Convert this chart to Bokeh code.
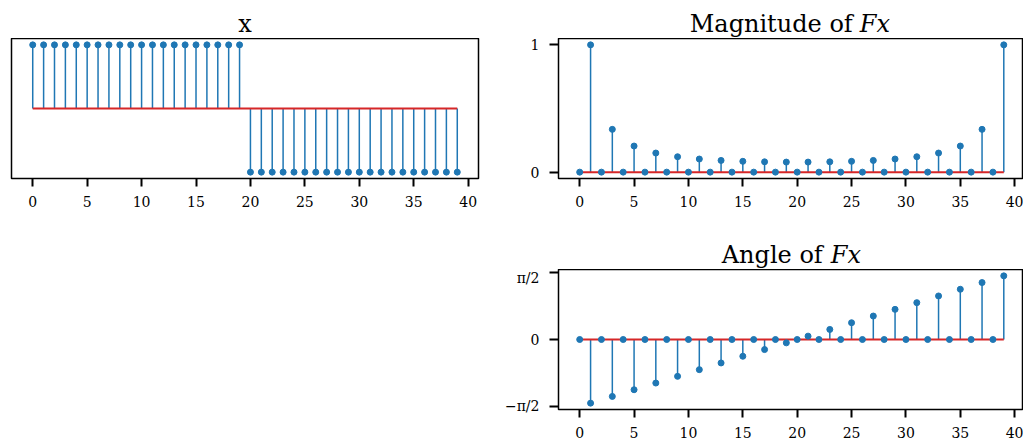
import math
from bokeh.plotting import figure
from bokeh.models import Range1d, FixedTicker, CustomJSTickFormatter, ColumnDataSource
from bokeh.core.properties import value
from bokeh.layouts import row, column
from bokeh.embed import file_html
from bokeh.resources import INLINE

# ---------------- data ----------------
n = list(range(40))
x_signal = [1, 1, 1, 1, 1, 1, 1, 1, 1, 1, 1, 1, 1, 1, 1, 1, 1, 1, 1, 1,
            -1, -1, -1, -1, -1, -1, -1, -1, -1, -1, -1, -1, -1, -1, -1, -1, -1, -1, -1, -1]
magnitude = [0, 1.0, 0, 0.336, 0, 0.205, 0, 0.150, 0, 0.121,
             0, 0.103, 0, 0.092, 0, 0.085, 0, 0.081, 0, 0.079,
             0, 0.079, 0, 0.081, 0, 0.085, 0, 0.092, 0, 0.103,
             0, 0.121, 0, 0.150, 0, 0.205, 0, 0.336, 0, 1.0]
angle = [0, -1.492, 0, -1.335, 0, -1.178, 0, -1.021, 0, -0.864,
         0, -0.707, 0, -0.550, 0, -0.393, 0, -0.236, 0, -0.079,
         0, 0.079, 0, 0.236, 0, 0.393, 0, 0.550, 0, 0.707,
         0, 0.864, 0, 1.021, 0, 1.178, 0, 1.335, 0, 1.492]
x_ticks = [0, 5, 10, 15, 20, 25, 30, 35, 40]
mag_ticks = [0, 1]
angle_ticks = [-math.pi / 2, 0, math.pi / 2]

BLUE = "#1f77b4"
RED = "#d62728"
FONT = "DejaVu Serif"
TITLE_SIZE = "24px"
TICK_SIZE = "14px"


def make_fig(frame_w, frame_h, x_range, y_lo, y_hi, mbl, mbr, mbt, mbb):
    p = figure(frame_width=frame_w, frame_height=frame_h,
               x_range=x_range, y_range=Range1d(y_lo, y_hi),
               output_backend="svg", toolbar_location=None,
               min_border_left=mbl, min_border_right=mbr,
               min_border_top=mbt, min_border_bottom=mbb)
    p.grid.visible = False
    p.outline_line_color = "black"
    p.outline_line_width = 1.5
    p.background_fill_color = "white"
    p.border_fill_color = "white"
    for ax in (p.xaxis[0], p.yaxis[0]):
        ax.axis_line_color = None
        ax.major_tick_in = 0
        ax.major_tick_out = 8
        ax.major_tick_line_width = 2
        ax.major_tick_line_color = "black"
        ax.minor_tick_line_color = None
        ax.major_label_text_font = FONT
        ax.major_label_text_font_size = TICK_SIZE
        ax.major_label_text_color = "black"
        ax.major_label_standoff = 9
    p.xaxis.ticker = FixedTicker(ticks=x_ticks)
    return p


def title_fig(frame_w, frame_h, x_range, mbl, mbr, parts, baseline_from_bottom):
    t = figure(frame_width=frame_w, frame_height=frame_h,
               x_range=x_range, y_range=Range1d(0, frame_h),
               output_backend="svg", toolbar_location=None,
               x_axis_location=None, y_axis_location=None,
               min_border_left=mbl, min_border_right=mbr,
               min_border_top=0, min_border_bottom=0)
    t.grid.visible = False
    t.outline_line_color = None
    t.background_fill_color = "white"
    t.border_fill_color = "white"
    for text, style, off, align in parts:
        t.text(x=[19.5], y=[baseline_from_bottom], text=[text],
               text_align=align, text_baseline="alphabetic", x_offset=off,
               text_font=value(FONT), text_font_style=style,
               text_font_size=value(TITLE_SIZE), text_color="black")
    return t


def stem(p, xs, ys):
    src = ColumnDataSource(dict(x=xs, y=ys, y0=[0] * len(xs)))
    p.segment(x0="x", y0="y0", x1="x", y1="y", source=src,
              line_color=BLUE, line_width=1.5)
    p.segment(x0=[min(xs)], y0=[0], x1=[max(xs)], y1=[0],
              line_color=RED, line_width=2)
    p.scatter(x="x", y="y", source=src, size=6, marker="circle",
              fill_color=BLUE, line_color=BLUE)


FH = 140

# ---------------- left: x ----------------
xr_left = Range1d(-1.95, 40.95)
t1 = title_fig(467, 38, xr_left, 11, 20, [("x", "normal", 0, "center")], 15)
p1 = make_fig(467, FH, xr_left, -1.1, 1.1, 11, 20, 0, 40)
p1.yaxis.visible = False
stem(p1, n, x_signal)

# ---------------- right top: magnitude ----------------
xr_right = Range1d(-1.95, 40.72)
t2 = title_fig(464, 38, xr_right, 60, 1,
               [("Magnitude of", "normal", 61, "right"),
                ("Fx", "italic", 68, "left")], 15)
p2 = make_fig(464, FH, xr_right, -0.05, 1.05, 60, 1, 0, 50)
p2.yaxis.ticker = FixedTicker(ticks=mag_ticks)
p2.yaxis.major_tick_out = 9
p2.yaxis.major_label_standoff = 10
stem(p2, n, magnitude)

# ---------------- right bottom: angle ----------------
a_lim = 1.045 * math.pi / 2
t3 = title_fig(464, 41, xr_right, 60, 1,
               [("Angle of", "normal", 31, "right"),
                ("Fx", "italic", 39, "left")], 15)
p3 = make_fig(464, FH, xr_right, -a_lim, a_lim, 60, 1, 0, 37)
p3.yaxis.ticker = FixedTicker(ticks=angle_ticks)
p3.yaxis.major_tick_out = 9
p3.yaxis.major_label_standoff = 10
p3.yaxis.formatter = CustomJSTickFormatter(code="""
if (tick > 0.1) { return "\u03c0/2"; }
if (tick < -0.1) { return "\u2212\u03c0/2"; }
return "0";
""")
stem(p3, n, angle)

layout = row(column(t1, p1), column(t2, p2, t3, p3))

with open("out.html", "w", encoding="utf-8") as f:
    f.write(file_html(layout, INLINE))
